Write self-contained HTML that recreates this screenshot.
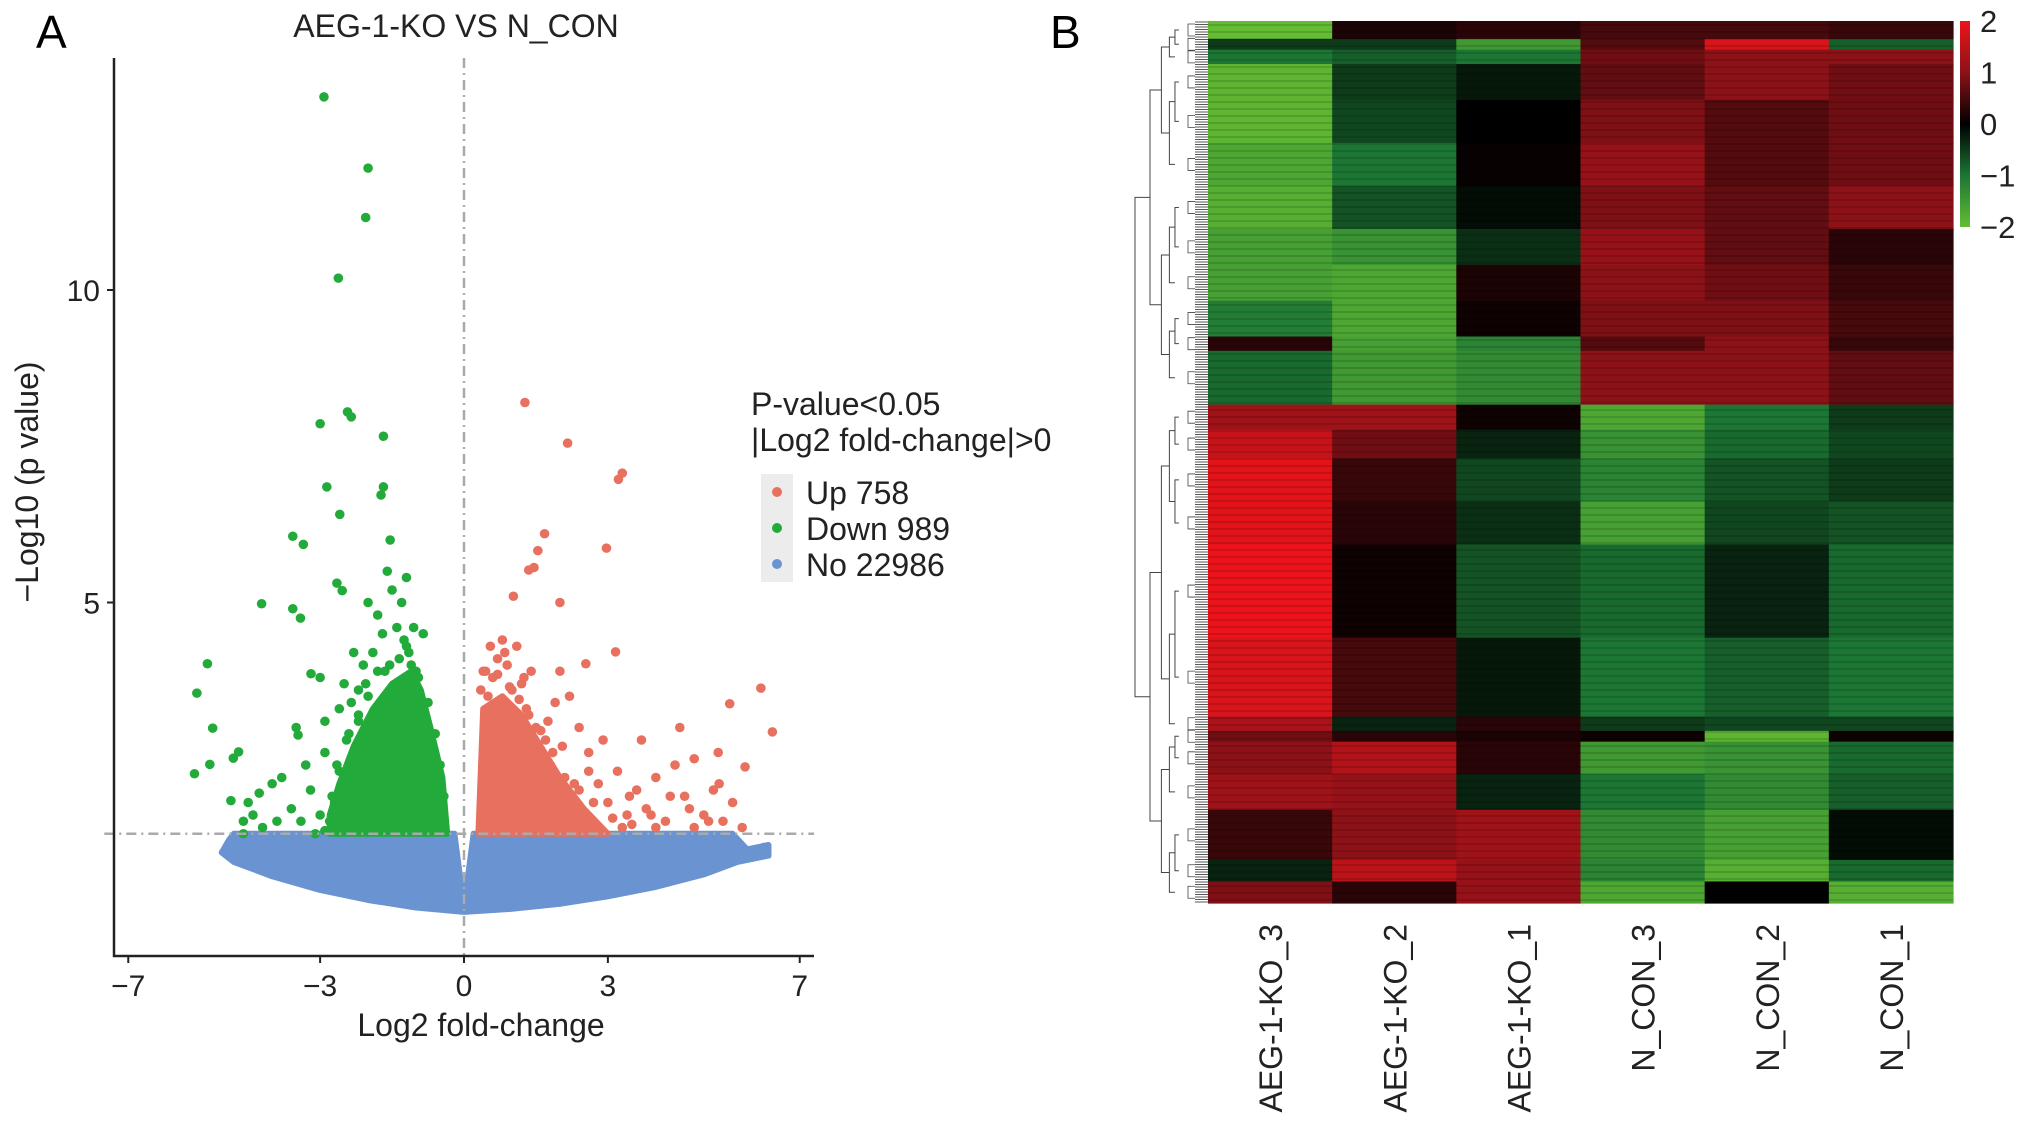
<!DOCTYPE html>
<html><head><meta charset="utf-8">
<style>
html,body{margin:0;padding:0;background:#fff;}
svg{display:block;font-family:"Liberation Sans",Arial,sans-serif;}
</style></head>
<body>
<svg id="fig" width="2032" height="1124" viewBox="0 0 2032 1124" xmlns="http://www.w3.org/2000/svg">
<g id="volcano"></g>
<g id="heat"></g>
<text x="36" y="48" font-size="46">A</text>
<text x="1050" y="48" font-size="46">B</text>
<text x="456" y="37" font-size="32" text-anchor="middle" fill="#222">AEG-1-KO VS N_CON</text>
<text x="481" y="1036" font-size="32" text-anchor="middle" fill="#222">Log2 fold-change</text>
<text transform="translate(38,482) rotate(-90)" font-size="32" text-anchor="middle" fill="#222">−Log10 (p value)</text>
<g>
<text x="751" y="415" font-size="32" fill="#222">P-value&lt;0.05</text>
<text x="751" y="451" font-size="32" fill="#222">|Log2 fold-change|&gt;0</text>
<rect x="761" y="474" width="32" height="108" fill="#ececec"/>
<circle cx="777" cy="492" r="5" fill="#e8705f"/>
<circle cx="777" cy="528" r="5" fill="#22aa3a"/>
<circle cx="777" cy="564" r="5" fill="#6a93d1"/>
<text x="806" y="504" font-size="32" fill="#222">Up 758</text>
<text x="806" y="540" font-size="32" fill="#222">Down 989</text>
<text x="806" y="576" font-size="32" fill="#222">No 22986</text>
</g>
</svg>
<script>
// ---------- Volcano data ----------
const xTicks = [-7, -3, 0, 3, 7];
const yTicks = [5, 10];
const threshold = 1.3;
const noRegion = [[-4.8,1.3],[-0.2,1.3],[0,0.12],[0.2,1.3],[5.6,1.3],[5.9,1.05],[6.35,1.12],[6.35,0.95],[5.7,0.85],[5,0.65],[4,0.45],[3,0.3],[2,0.18],[1,0.1],[0,0.05],[-1,0.12],[-2,0.24],[-3,0.4],[-4,0.62],[-4.8,0.85],[-5.05,1.0],[-4.9,1.2]];
const downRegion = [[-2.8,1.3],[-0.35,1.3],[-0.45,2.2],[-0.7,3.0],[-0.9,3.6],[-1.1,3.9],[-1.5,3.7],[-1.9,3.3],[-2.3,2.7],[-2.6,2.1],[-2.8,1.6]];
const upRegion = [[0.3,1.3],[3.0,1.3],[2.5,1.7],[2.0,2.2],[1.6,2.7],[1.2,3.2],[0.8,3.5],[0.4,3.3]];
const downX = [-2.92,-2.0,-2.05,-2.62,-3.0,-2.43,-2.35,-1.68,-2.86,-1.68,-1.73,-2.59,-3.57,-3.35,-1.54,-4.22,-2.65,-2.54,-3.57,-3.41,-5.35,-5.57,-5.24,-5.62,-5.3,-4.81,-4.7,-3.46,-3.19,-4.86,-4.27,-4.0,-2.8,-2.7,-3.0,-3.2,-3.4,-3.6,-3.9,-4.2,-4.4,-4.6,-4.5,-3.8,-3.3,-2.9,-2.6,-2.4,-2.2,-2.6,-2.9,-3.0,-2.5,-2.2,-2.1,-1.9,-1.7,-1.4,-1.2,-1.1,-1.0,-1.3,-1.5,-1.6,-1.8,-2.3,-2.0,-1.2,-1.0,-0.8,-0.7,-2.4,-2.7,-3.1,-4.6,-3.5,-2.75,-2.65,-2.45,-2.2,-2.0,-1.8,-1.55,-1.35,-1.15,-0.95,-0.75,-0.6,-0.5,-0.42,-2.9,-2.55,-2.3,-1.95,-1.7,-1.45,-0.85,-1.05,-1.25,-2.05,-2.35,-1.65];
const downY = [13.09,11.95,11.16,10.19,7.86,8.05,7.97,7.66,6.85,6.85,6.72,6.41,6.06,5.93,6.0,4.98,5.31,5.19,4.9,4.75,4.02,3.55,2.99,2.26,2.41,2.51,2.61,2.88,3.86,1.83,1.95,2.1,1.5,1.8,1.6,2.0,1.5,1.7,1.5,1.4,1.6,1.5,1.8,2.2,2.4,2.6,2.3,2.9,3.1,3.3,3.1,3.8,3.7,3.6,4.0,4.2,4.5,4.6,4.3,4.0,3.9,5.0,5.2,5.5,4.8,4.2,5.0,5.4,3.2,3.0,2.7,2.0,1.4,1.3,1.3,3.0,1.9,2.4,2.8,3.2,3.5,3.9,4.0,4.1,4.2,3.8,3.4,2.9,2.4,1.9,1.35,1.45,1.6,1.55,1.5,1.45,4.5,4.6,4.4,3.7,3.4,3.9];
const upX = [1.27,2.16,3.3,3.22,1.68,1.54,1.35,1.46,1.03,2.97,2.0,3.16,2.54,6.19,6.43,5.54,5.86,5.32,0.5,0.6,0.7,0.8,0.9,0.4,1.0,1.2,1.3,1.5,1.7,1.9,2.2,1.8,2.1,2.4,2.6,2.8,3.0,3.2,3.4,3.6,3.8,4.0,4.2,4.4,4.6,4.8,5.0,5.2,5.4,5.6,2.9,3.3,4.0,4.8,2.5,2.2,1.1,0.6,2.4,1.4,3.7,4.5,5.8,5.3,2.0,0.35,0.45,0.7,0.95,1.15,1.35,1.6,1.85,2.3,2.7,3.1,3.5,0.55,0.85,1.25,1.75,2.05,2.6,3.45,3.9,4.3,4.7,5.1];
const upY = [8.2,7.55,7.07,6.97,6.1,5.83,5.52,5.56,5.1,5.87,5.0,4.21,4.02,3.63,2.93,3.38,2.37,2.1,3.5,3.8,4.1,4.4,4.0,3.9,3.6,3.7,3.3,3.0,2.8,3.4,3.5,2.4,2.2,2.0,2.6,2.1,1.8,2.3,1.6,2.0,1.7,2.2,1.5,2.4,1.9,2.5,1.6,2.0,1.5,1.8,2.8,1.4,1.4,1.4,1.6,1.4,4.3,2.9,3.0,3.9,2.8,3.0,1.4,2.6,3.9,3.6,3.9,3.85,3.65,3.45,3.2,2.95,2.6,2.1,1.8,1.55,1.45,4.3,4.2,3.8,3.1,2.7,2.3,1.9,1.6,1.9,1.7,1.5];
const noX = [-4.9,-4.6,-4.3,-4.0,-3.6,-3.2,5.9,6.1,6.25,5.5,5.2,4.8,4.4,-0.1,0.1];
const noY = [1.1,0.95,0.85,0.8,0.65,0.55,1.02,1.05,1.08,1.0,0.85,0.75,0.6,0.5,0.5];

// ---------- Heatmap data ----------
const columns = ["AEG-1-KO_3","AEG-1-KO_2","AEG-1-KO_1","N_CON_3","N_CON_2","N_CON_1"];
const bandRows = [25,15,20,50,60,60,60,50,50,50,20,75,35,40,60,60,130,110,20,15,45,50,70,30,30];
const K3 = [-2,-0.5,-1,-1.9,-1.9,-1.7,-1.8,-1.6,-1.6,-1.1,0.3,-0.9,1.2,1.6,1.9,1.9,2.0,1.8,1.3,0.8,1.0,1.2,0.4,-0.3,0.9];
const K2 = [0.2,-0.5,-0.8,-0.5,-0.6,-1.0,-0.7,-1.4,-1.7,-1.7,-1.6,-1.5,1.2,0.8,0.4,0.3,0.1,0.5,-0.3,0.3,1.4,1.1,1.0,1.5,0.3];
const K1 = [0.3,-1.5,-1.0,-0.2,0.0,0.05,-0.1,-0.4,0.2,0.1,-1.2,-1.3,0.1,-0.3,-0.6,-0.4,-0.7,-0.2,0.3,0.2,0.3,-0.3,1.2,1.1,1.1];
const N3 = [0.5,0.6,0.8,0.7,0.9,1.1,0.9,1.1,1.0,0.9,0.6,1.0,-1.7,-1.4,-1.2,-1.6,-0.9,-1.0,-0.5,0.1,-1.5,-1.0,-1.3,-1.2,-1.7];
const N2 = [0.5,1.8,1.0,1.0,0.6,0.6,0.7,0.7,0.8,0.9,1.0,1.0,-1.0,-0.9,-0.7,-0.6,-0.3,-0.8,-0.6,-1.9,-1.4,-1.3,-1.6,-1.8,0.0];
const N1 = [0.4,-0.8,1.0,0.8,0.8,0.8,1.0,0.3,0.4,0.5,0.4,0.7,-0.5,-0.6,-0.5,-0.7,-0.9,-1.0,-0.6,0.1,-0.9,-0.8,-0.1,-0.9,-1.8];
const scaleTicks = [2,1,0,-1,-2];

const NS = "http://www.w3.org/2000/svg";
function mk(parent, tag, attrs){const el=document.createElementNS(NS,tag);for(const k in attrs)el.setAttribute(k,attrs[k]);parent.appendChild(el);return el;}

// ---------- Volcano drawing ----------
const V = document.getElementById('volcano');
const sx = v => 464 + v*47.96;
const sy = v => 915 - v*62.5;
const poly = p => p.map(q=>sx(q[0]).toFixed(1)+','+sy(q[1]).toFixed(1)).join(' ');

let e;
e = mk(V,'polygon',{points:poly(noRegion),fill:'#6a93d1',stroke:'#6a93d1','stroke-width':6,'stroke-linejoin':'round'});


e = mk(V,'polygon',{points:poly(downRegion),fill:'#22aa3a',stroke:'#22aa3a','stroke-width':6,'stroke-linejoin':'round'});


e = mk(V,'polygon',{points:poly(upRegion),fill:'#e8705f',stroke:'#e8705f','stroke-width':6,'stroke-linejoin':'round'});


function drawPts(xs,ys,col,name){for(let i=0;i<xs.length;i++){const c=mk(V,'circle',{cx:sx(xs[i]),cy:sy(ys[i]),r:4.8,fill:col});

}}
drawPts(noX,noY,'#6a93d1','point-no');
drawPts(downX,downY,'#22aa3a','point-down');
drawPts(upX,upY,'#e8705f','point-up');

e = mk(V,'line',{x1:sx(0),x2:sx(0),y1:58,y2:956,stroke:'#aaa','stroke-width':2.5,'stroke-dasharray':'10,5,2,5'});


e = mk(V,'line',{x1:sx(-7.5),x2:sx(7.3),y1:sy(threshold),y2:sy(threshold),stroke:'#aaa','stroke-width':2.5,'stroke-dasharray':'10,5,2,5'});


e = mk(V,'path',{d:'M114,58 V956 H814',fill:'none',stroke:'#222','stroke-width':2.5});


xTicks.forEach(t=>{
  e = mk(V,'line',{x1:sx(t),x2:sx(t),y1:956,y2:963,stroke:'#222','stroke-width':2});
  
  
  e = mk(V,'text',{x:sx(t),y:996,'font-size':30,'text-anchor':'middle',fill:'#222'});
  e.textContent = t<0 ? '−'+(-t) : String(t);
  
  
});
yTicks.forEach(t=>{
  e = mk(V,'line',{x1:107,x2:114,y1:sy(t),y2:sy(t),stroke:'#222','stroke-width':2});
  
  
  e = mk(V,'text',{x:100,y:sy(t)+11,'font-size':30,'text-anchor':'end',fill:'#222'});
  e.textContent = String(t);
  
  
});

// ---------- Heatmap drawing ----------
const H = document.getElementById('heat');
const hx0=1208, hx1=1953, hy0=21, hy1=903;
const colW=(hx1-hx0)/columns.length;
const totalRows = bandRows.reduce((a,b)=>a+b,0);
const ry = r => hy0 + r*(hy1-hy0)/totalRows;
function color(v){
  const stops=[[-2,[100,188,50]],[-1,[28,118,52]],[0,[0,0,0]],[1,[140,18,24]],[2,[236,20,26]]];
  v=Math.max(-2,Math.min(2,v));
  for(let i=0;i<stops.length-1;i++){const a=stops[i],b=stops[i+1];
    if(v<=b[0]){const t=(v-a[0])/(b[0]-a[0]);return 'rgb('+a[1].map((c,j)=>Math.round(c+(b[1][j]-c)*t)).join(',')+')';}}
  return 'rgb(236,20,26)';
}
const colData=[K3,K2,K1,N3,N2,N1];
let acc=0;
const bandMid=[];
bandRows.forEach((n,b)=>{
  const y0=ry(acc), y1=ry(acc+n);
  bandMid.push((y0+y1)/2);
  colData.forEach((arr,c)=>{
    const r=mk(H,'rect',{x:(hx0+c*colW).toFixed(2),y:y0.toFixed(2),width:(colW+0.6).toFixed(2),height:(y1-y0+0.6).toFixed(2),fill:color(arr[b])});
    
    
  });
  acc+=n;
});
// faint row striping texture
const stripes=mk(H,'g',{opacity:0.12});


for(let y=hy0+3;y<hy1;y+=7){mk(stripes,'rect',{x:hx0,y:y,width:hx1-hx0,height:2,fill:'#000'});}
columns.forEach((c,i)=>{
  const t=mk(H,'text',{transform:'translate('+(hx0+(i+0.5)*colW+12).toFixed(1)+',924) rotate(-90)','font-size':32,'text-anchor':'end',fill:'#222'});
  t.textContent=c;
  
  
});
const dg=mk(H,'g',{stroke:'#444','stroke-width':1,fill:'none'});


for(let y=hy0+1;y<hy1;y+=2.5){mk(dg,'line',{x1:1195,x2:hx0,y1:y,y2:y,'stroke-width':0.9});}
function tree(lo,hi,x){
  if(hi-lo<=0){
    const m=bandMid[lo];
    mk(dg,'path',{d:'M1195,'+(m-6)+' H1188 V'+(m+6)+' H1195','stroke-width':0.8});
    return m;
  }
  const mid=Math.floor((lo+hi)/2);
  const cx=x+(1188-x)*0.3;
  const a=tree(lo,mid,cx), b=tree(mid+1,hi,cx);
  mk(dg,'path',{d:'M'+cx+','+a+' H'+x+' V'+b+' H'+cx});
  return (a+b)/2;
}
const dendTop=tree(0,11,1150), dendBot=tree(12,bandRows.length-1,1150);
mk(dg,'path',{d:'M1150,'+dendTop+' H1135 V'+dendBot+' H1150'});
const defs=mk(H,'defs',{});
const lg=mk(defs,'linearGradient',{id:'cs',x1:0,y1:0,x2:0,y2:1});
scaleTicks.forEach((v,i)=>mk(lg,'stop',{offset:(i/(scaleTicks.length-1)),'stop-color':color(v)}));
e=mk(H,'rect',{x:1960,y:21,width:10,height:206,fill:'url(#cs)'});


scaleTicks.forEach((v,i)=>{
  const t=mk(H,'text',{x:1980,y:(21+i*206/4+11).toFixed(1),'font-size':31,fill:'#222'});
  t.textContent = v<0 ? '−'+(-v) : String(v);
  
  
});
</script>
</body></html>
